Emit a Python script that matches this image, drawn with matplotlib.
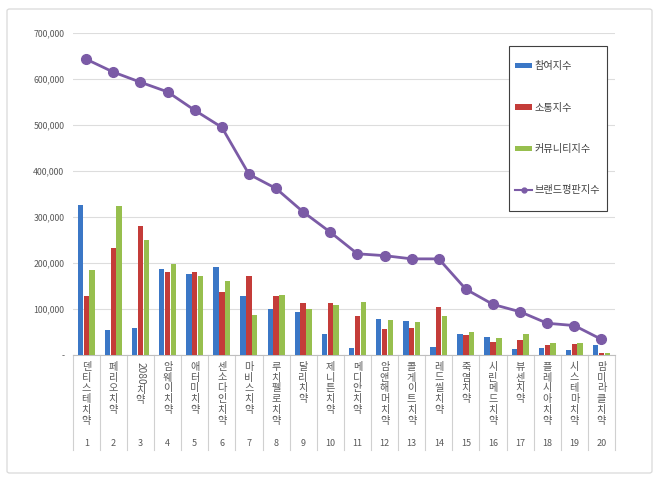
import matplotlib
matplotlib.use("Agg")
import matplotlib.pyplot as plt
import numpy as np
from matplotlib.patches import FancyBboxPatch, Rectangle
from matplotlib.lines import Line2D
import matplotlib.transforms as mtrans

plt.rcParams['font.family'] = ['Noto Sans CJK KR', 'DejaVu Sans']

categories = ["덴티스테 치약", "페리오 치약", "2080 치약", "암웨이 치약", "애터미 치약",
              "센소다인 치약", "마비스 치약", "루치펠로 치약", "달리 치약", "제니튼 치약",
              "메디안 치약", "암앤해머 치약", "콜게이트 치약", "레드씰 치약", "죽염 치약",
              "시린메드 치약", "뷰센 치약", "플레시아 치약", "시스테마 치약", "맘미라클 치약"]
rank_labels = [str(i) for i in range(1, 21)]

participation = [326000, 54000, 59000, 188000, 177000, 191000, 129000, 101000, 93000, 45000,
                 16000, 78000, 75000, 17000, 46000, 39000, 13000, 16000, 11000, 21000]
communication = [128000, 233000, 280000, 181000, 180000, 138000, 172000, 128000, 114000, 112000,
                 84000, 57000, 59000, 104000, 43000, 29000, 33000, 21000, 23000, 5000]
community = [185000, 325000, 250000, 197000, 172000, 160000, 88000, 130000, 99000, 108000,
             115000, 77000, 72000, 84000, 50000, 37000, 45000, 27000, 26000, 4000]
brand_index = [643000, 615000, 593000, 572000, 532000, 495000, 393000, 362000, 311000, 267000,
               220000, 216000, 209000, 209000, 143000, 110000, 94000, 69000, 64000, 34000]

series_names = ["참여지수", "소통지수", "커뮤니티지수", "브랜드평판지수"]
yticks = [0, 100000, 200000, 300000, 400000, 500000, 600000, 700000]
ytick_labels = ["-", "100,000", "200,000", "300,000", "400,000", "500,000", "600,000", "700,000"]

W, H = 660, 484
fig = plt.figure(figsize=(W / 100, H / 100), dpi=100)

# outer border
border = FancyBboxPatch((7 / W, 1 - 473 / H), (652 - 7) / W, (473 - 9) / H,
                        boxstyle="round,pad=0,rounding_size=0.004",
                        transform=fig.transFigure, facecolor="none",
                        edgecolor="#D9D9D9", linewidth=0.9, zorder=0)
fig.patches.append(border)

ax_left, ax_right, ax_top, ax_bottom = 72.7, 615.0, 33.0, 355.0
ax = fig.add_axes([ax_left / W, 1 - ax_bottom / H, (ax_right - ax_left) / W, (ax_bottom - ax_top) / H])
ax.set_facecolor("none")
ax.set_zorder(2)

x = np.arange(len(categories))
bw = 0.2
step = 0.215
b1 = ax.bar(x - step, participation, bw, color="#3B77C6", label=series_names[0], zorder=3)
b2 = ax.bar(x, communication, bw, color="#C43C39", label=series_names[1], zorder=3)
b3 = ax.bar(x + step, community, bw, color="#97BF4E", label=series_names[2], zorder=3)
ln, = ax.plot(x, brand_index, color="#7B5BA6", linewidth=2.0, marker="o", markersize=7,
              label=series_names[3], zorder=4)

ax.set_xlim(-0.5, len(categories) - 0.5)
ax.set_ylim(0, 700000)
ax.set_yticks(yticks)
ax.set_yticklabels(ytick_labels, fontsize=6.3, color="#595959")
ax.tick_params(axis="y", length=0, pad=6)
ax.set_xticks([])
ax.yaxis.grid(True, color="#DDDDDD", linewidth=0.8, zorder=0)
for s in ["left", "right", "top"]:
    ax.spines[s].set_visible(False)
ax.spines["bottom"].set_color("#BFBFBF")
ax.spines["bottom"].set_linewidth(0.8)

# category separators extending below the axis
trans = mtrans.blended_transform_factory(ax.transData, ax.transAxes)
axh = ax_bottom - ax_top
y_end = -(450 - ax_bottom) / axh
for k in range(len(categories) + 1):
    ax.add_line(Line2D([k - 0.5, k - 0.5], [0, y_end], transform=trans, color="#D0D0D0",
                       linewidth=0.8, clip_on=False))

# vertical category labels
cfs = 7.3
for i, lab in enumerate(categories):
    off = 11.7
    parts = lab.split(" ")
    for p in parts:
        if p.isascii():
            ax.annotate(p, xy=(i, 0), xycoords=trans, xytext=(0, -(off + 7)),
                        textcoords="offset pixels", ha="center", va="center",
                        rotation=-90, fontsize=cfs, color="#595959")
            off += 23
        else:
            for ch in p:
                ax.annotate(ch, xy=(i, 0), xycoords=trans, xytext=(0, -off),
                            textcoords="offset pixels", ha="center", va="center",
                            fontsize=cfs, color="#595959")
                off += 10.8
    ax.annotate(rank_labels[i], xy=(i, 0), xycoords=trans, xytext=(0, -88),
                textcoords="offset pixels", ha="center", va="center",
                fontsize=6.5, color="#595959")

# legend box
fig.patches.append(Rectangle((509 / W, 1 - 211 / H), (607 - 509) / W, (211 - 46) / H,
                             transform=fig.transFigure, facecolor="white",
                             edgecolor="#404040", linewidth=0.8, zorder=5))
leg_line = Line2D([], [], color="#7B5BA6", linewidth=1.5, marker="o", markersize=3.5)
leg = fig.legend([b1, b2, b3, leg_line], series_names,
                 loc="upper left", bbox_to_anchor=(515 / W, 1 - 61.5 / H),
                 bbox_transform=fig.transFigure, fontsize=7.3, frameon=False,
                 labelspacing=3.07, handlelength=1.7, handleheight=0.4,
                 handletextpad=0.2, borderpad=0, borderaxespad=0,
                 labelcolor="#404040")
leg.set_zorder(6)

fig.savefig("out.png", dpi=100)
